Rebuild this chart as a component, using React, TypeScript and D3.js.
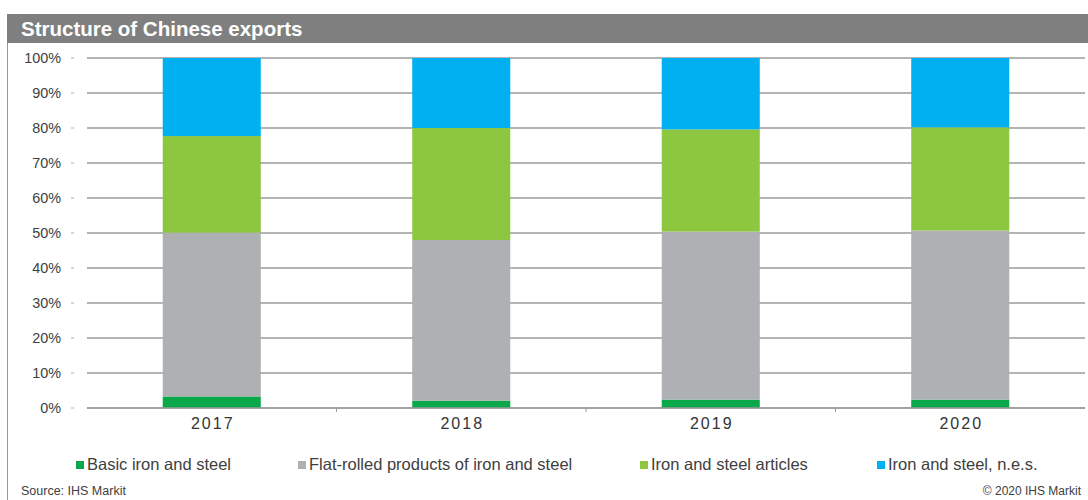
import React from "react";
import * as d3 from "d3";

const years = ["2017", "2018", "2019", "2020"];
const seriesNames = [
  "Basic iron and steel",
  "Flat-rolled products of iron and steel",
  "Iron and steel articles",
  "Iron and steel, n.e.s.",
];
const basic = [3.3, 2.1, 2.4, 2.4];
const flatRolled = [46.8, 45.9, 48.0, 48.3];
const articles = [27.6, 32.0, 29.2, 29.5];
const nes = [22.3, 20.0, 20.4, 19.8];
const yTicks = [0, 10, 20, 30, 40, 50, 60, 70, 80, 90, 100];
const colors = ["#0aa84a", "#aeb0b3", "#8dc63f", "#00b0f0"];

const W = 1088;
const H = 500;
const plotLeft = 87;
const plotRight = 1085;
const plotTop = 58;
const plotBottom = 408;
const FONT = "Liberation Sans, Arial, sans-serif";

export default function App() {
  const x = d3.scaleBand<string>().domain(years).range([plotLeft, plotRight]).paddingInner(0.607).paddingOuter(0.3035);
  const band = d3.scaleBand<string>().domain(years).range([plotLeft, plotRight]);
  const y = d3.scaleLinear().domain([0, 100]).range([plotBottom, plotTop]);

  const table = years.map((yr, i) => ({
    year: yr,
    s0: basic[i],
    s1: flatRolled[i],
    s2: articles[i],
    s3: nes[i],
  }));
  const stack = d3.stack<any>().keys(["s0", "s1", "s2", "s3"]);
  const layers = stack(table);

  const legendX = [76, 298, 640, 877];

  return (
    <svg width={W} height={H} style={{ position: "absolute", left: 0, top: 0, display: "block" }}>
      <rect x={0} y={0} width={W} height={H} fill="#fff" />
      {/* title bar */}
      <rect x={7} y={14} width={W - 7} height={29} fill="#7f7f7f" />
      <text x={21} y={36} fill="#fff" fontFamily={FONT} fontWeight="bold" fontSize={20.5}>
        Structure of Chinese exports
      </text>
      {/* left border */}
      <line x1={7.5} x2={7.5} y1={43} y2={H} stroke="#9a9a9a" strokeWidth={1} />

      {/* gridlines and y labels */}
      {yTicks.map((t) => (
        <g key={t}>
          <line x1={plotLeft} x2={plotRight} y1={y(t)} y2={y(t)} stroke="#9b9b9b" strokeWidth={1.5} />
          <line x1={71} x2={74} y1={y(t)} y2={y(t)} stroke="#b0b0b0" strokeWidth={1} />
          <text x={61} y={y(t) + 5} textAnchor="end" fontFamily={FONT} fontSize={14.4} fill="#404040">
            {t}%
          </text>
        </g>
      ))}

      {/* bars */}
      {layers.map((layer, li) => (
        <g key={li} fill={colors[li]}>
          {layer.map((d: any, i: number) => (
            <rect
              key={i}
              x={x(years[i])}
              width={x.bandwidth()}
              y={y(d[1])}
              height={y(d[0]) - y(d[1])}
            />
          ))}
        </g>
      ))}

      {/* x axis */}
      <line x1={plotLeft} x2={plotRight} y1={plotBottom} y2={plotBottom} stroke="#9b9b9b" strokeWidth={1.5} />
      {years.slice(1).map((yr) => (
        <line key={yr} x1={band(yr)} x2={band(yr)} y1={plotBottom} y2={plotBottom + 4} stroke="#9b9b9b" strokeWidth={1} />
      ))}
      {years.map((yr) => (
        <text
          key={yr}
          x={(band(yr) as number) + band.bandwidth() / 2 + 1}
          y={429}
          textAnchor="middle"
          fontFamily={FONT}
          fontSize={16}
          letterSpacing={2}
          fill="#333"
        >
          {yr}
        </text>
      ))}

      {/* legend */}
      {seriesNames.map((name, i) => (
        <g key={name}>
          <rect x={legendX[i]} y={461} width={8} height={8} fill={colors[i]} />
          <text x={legendX[i] + 11} y={470} fontFamily={FONT} fontSize={16.5} fill="#404040">
            {name}
          </text>
        </g>
      ))}

      {/* footer */}
      <text x={21} y={495} fontFamily={FONT} fontSize={12.5} fill="#404040">
        Source: IHS Markit
      </text>
      <text x={1081} y={495} textAnchor="end" fontFamily={FONT} fontSize={12} fill="#404040">
        © 2020 IHS Markit
      </text>
    </svg>
  );
}
